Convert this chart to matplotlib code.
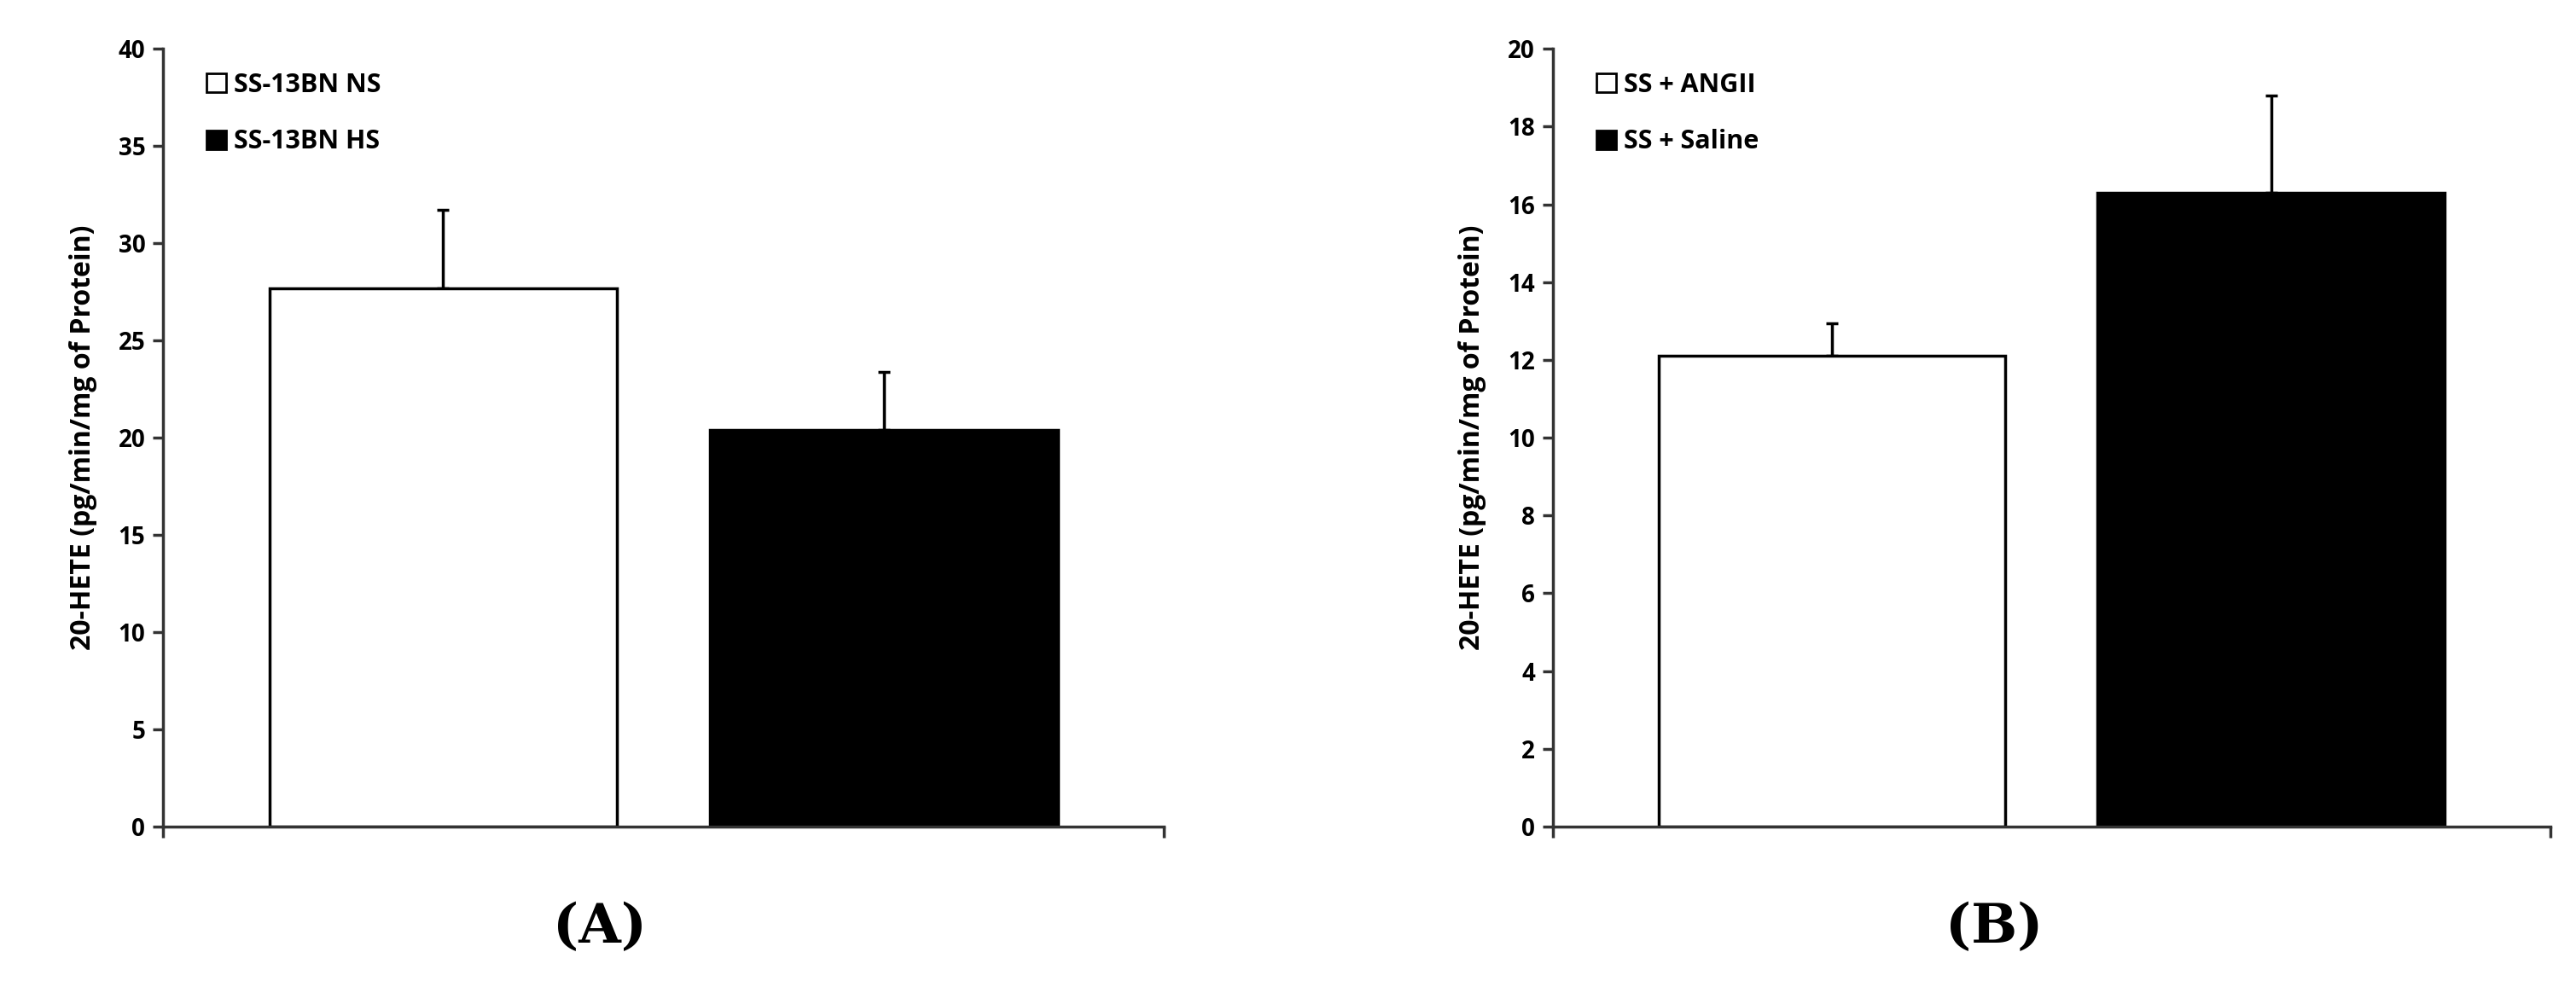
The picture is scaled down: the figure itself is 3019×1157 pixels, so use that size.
import matplotlib
matplotlib.use("Agg")
import matplotlib.pyplot as plt
from matplotlib.patches import Patch

groups_a = ["SS-13BN NS", "SS-13BN HS"]
values_a = [27.7, 20.4]
errors_a = [4.0, 3.0]
ticks_a = [0, 5, 10, 15, 20, 25, 30, 35, 40]

groups_b = ["SS + ANGII", "SS + Saline"]
values_b = [12.1, 16.3]
errors_b = [0.85, 2.5]
ticks_b = [0, 2, 4, 6, 8, 10, 12, 14, 16, 18, 20]

ylabel = "20-HETE (pg/min/mg of Protein)"
fills = ["white", "black"]

plt.rcParams['font.family'] = ['Open Sans', 'DejaVu Sans']
fig = plt.figure(figsize=(30.19, 11.57), dpi=100)

def panel(rect, groups, values, errors, ticks, tag, tagx):
    ax = fig.add_axes(rect)
    x = list(range(len(values)))
    ax.bar(x, values, width=0.79, color=fills, edgecolor="black", linewidth=2.5, zorder=2)
    ax.errorbar(x, values, yerr=[[0] * len(errors), errors], fmt="none", ecolor="black",
                elinewidth=2.5, capsize=5, capthick=2.5, zorder=1)
    a = 0.636
    ax.set_xlim(-a, len(values) - 1 + a)
    ax.set_xticks([-a, len(values) - 1 + a])
    ax.set_xticklabels([])
    ax.set_ylim(ticks[0], ticks[-1])
    ax.set_yticks(ticks)
    ax.set_yticklabels([str(t) for t in ticks], fontsize=20, fontweight="bold")
    for s in ["top", "right"]:
        ax.spines[s].set_visible(False)
    for s in ["left", "bottom"]:
        ax.spines[s].set_linewidth(2.5)
        ax.spines[s].set_color("#333333")
    ax.tick_params(axis="both", direction="out", length=9, width=2.5, color="#333333", pad=6)
    ax.set_ylabel(ylabel, fontsize=23, fontweight="bold", labelpad=18)
    handles = [Patch(facecolor=f, edgecolor="black", linewidth=2) for f in fills]
    ax.legend(handles, groups, loc="upper left", bbox_to_anchor=(0.02, 1.0), frameon=False,
              prop={"size": 22, "weight": "bold"}, handlelength=0.75, handleheight=0.75,
              handletextpad=0.3, labelspacing=1.2)
    fig.text(tagx, 0.06, tag, fontsize=46, fontweight="bold", family="DejaVu Serif",
             ha="center", va="center")
    return ax

panel([0.0633, 0.1625, 0.3885, 0.788], groups_a, values_a, errors_a, ticks_a, "(A)", 0.233)
panel([0.6028, 0.1625, 0.3872, 0.788], groups_b, values_b, errors_b, ticks_b, "(B)", 0.774)

fig.savefig("out.png", dpi=100)
